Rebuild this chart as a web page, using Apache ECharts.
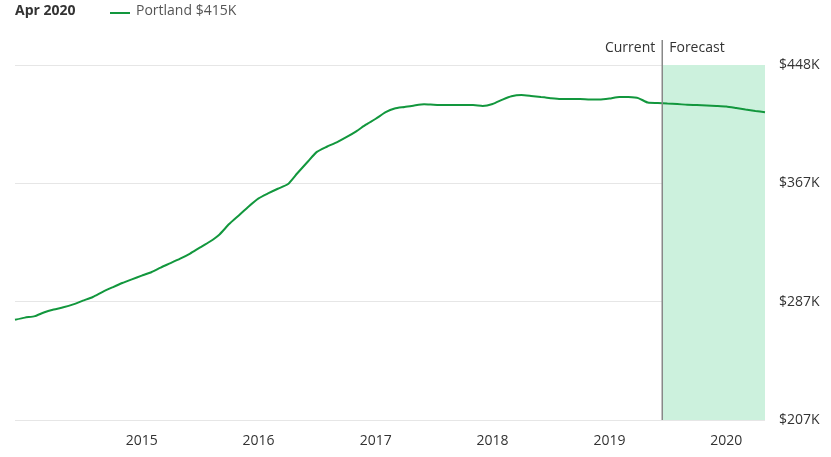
<!DOCTYPE html>
<html><head><meta charset="utf-8">
<script src="https://cdn.jsdelivr.net/npm/echarts@6/dist/echarts.min.js"></script>
<style>html,body{margin:0;padding:0;background:#fff}#c{width:831px;height:457px}</style>
</head><body><div id="c"></div>
<script>
const startMonth = '2013-12';
const values = [275,276.5,277.5,280,282,283.5,285.5,288,290.5,294,297,300,
302.5,305,307.5,310.5,313.5,316.5,320,324,328,333,340,346,
352,357.5,361,364,367,374.5,382,389,392.5,395.5,399,403,
407.5,411.5,416,418.5,419.5,420.5,421.3,421,420.8,420.8,420.8,420.8,
420.2,421.5,424.5,426.8,427.6,427,426.2,425.5,425,425,425,424.5,
424.5,425.2,426.3,426.2,425.5,422.5,422.2,421.8,421.5,421,420.8,420.5,
420.2,419.8,418.8,417.8,416.8,416];
const yTicks = ['$207K','$287K','$367K','$448K'];
const forecastStart = '2019-06-15';
const forecastEnd = '2020-05-01';
const seriesName = 'Portland $415K';
const headerLabel = 'Apr 2020';

const data = values.map((v,i)=>{
  const d = new Date(Date.UTC(2013, 11 + i, 1));
  return [d.getTime(), v];
});
const green = '#12973d';
const chart = echarts.init(document.getElementById('c'));
chart.setOption({
  animation:false,
  grid:{left:15,right:66,top:65,bottom:37},
  xAxis:{type:'time',min:data[0][0],max:data[data.length-1][0],
    axisLine:{show:false},axisTick:{show:false},splitLine:{show:false},
    axisLabel:{color:'#333',fontSize:14,fontFamily:'Open Sans',margin:14,showMinLabel:false,
      formatter:v=>{const d=new Date(v);return (d.getUTCMonth()===0 && d.getUTCFullYear()>2014)?String(d.getUTCFullYear()):'';}},
    minInterval:365*24*3600*1000},
  yAxis:{type:'value',position:'right',min:207,max:448,interval:(448-207)/3,
    axisLine:{show:false},axisTick:{show:false},
    splitLine:{lineStyle:{color:'#e6e6e6'}},
    axisLabel:{color:'#333',fontSize:14,fontFamily:'Open Sans',margin:14,
      formatter:(v)=>yTicks[Math.round((v-207)/((448-207)/3))]}},
  series:[{name:seriesName,type:'line',data:data,showSymbol:false,smooth:0.2,
    lineStyle:{color:green,width:2},itemStyle:{color:green},
    markArea:{silent:true,itemStyle:{color:'#ccf1dd'},
      data:[[{xAxis:new Date(forecastStart).getTime()},{xAxis:new Date(forecastEnd).getTime()}]]},
    z:3}]
});
const px = chart.convertToPixel({gridIndex:0},[new Date(forecastStart).getTime(),207])[0];
chart.setOption({graphic:[
  {type:'text',left:15,top:4,style:{text:headerLabel,font:'bold 14px "Open Sans"',fill:'#333'}},
  {type:'line',shape:{x1:110,y1:13,x2:130,y2:13},style:{stroke:green,lineWidth:2}},
  {type:'text',left:136,top:4,style:{text:seriesName,font:'14px "Open Sans"',fill:'#555'}},
  {type:'line',shape:{x1:px,y1:40,x2:px,y2:420},style:{stroke:'#888',lineWidth:1.5},z:10},
  {type:'text',x:px-7,y:41,style:{text:'Current',font:'14px "Open Sans"',fill:'#333',align:'right'}},
  {type:'text',x:px+7,y:41,style:{text:'Forecast',font:'14px "Open Sans"',fill:'#333',align:'left'}}
]});
</script></body></html>
